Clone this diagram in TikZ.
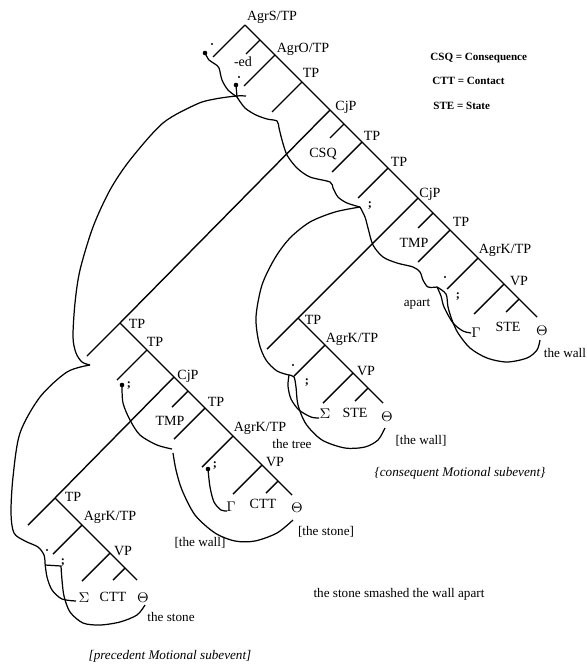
\documentclass[tikz,border=0pt]{standalone}
\usepackage{fontspec}
\setmainfont{Liberation Serif}
\begin{document}
\begin{tikzpicture}[x=0.02cm,y=-0.02cm,
    rama/.style={line width=0.8pt},
    curva/.style={line width=0.7pt},
    etiq/.style={font=\fontsize{8}{9}\selectfont, inner sep=0pt},
    nota/.style={font=\fontsize{7.5}{9}\selectfont, inner sep=0pt},
    ley/.style={font=\fontsize{6.3}{7}\selectfont\bfseries, inner sep=0pt, anchor=west},
    indice/.style={font=\fontsize{7}{8}\selectfont\bfseries, inner sep=0pt},
    marca/.style={fill=black, circle, inner sep=0pt, minimum size=1.3pt},
    punto/.style={fill=black, circle, inner sep=0pt, minimum size=2.6pt}]
        \useasboundingbox (0,0) rectangle (586,666);
        % Arbol superior (AgrS/TP)
        \coordinate (A0) at (245,25);  \coordinate (a0) at (213,57);
        \coordinate (A1) at (260,40);  \coordinate (a1) at (246,54);
        \coordinate (A2) at (275,55);  \coordinate (a2) at (244,86);
        \coordinate (A3) at (302,82);  \coordinate (a3) at (272,112);
        \coordinate (A4) at (330,110);
        \coordinate (A5) at (344,124); \coordinate (a5) at (330,138);
        \coordinate (A6) at (362,142); \coordinate (a6) at (332,172);
        \coordinate (A7) at (388,168); \coordinate (a7) at (358,198);
        \coordinate (A8) at (418,198);
        \coordinate (A9) at (433,213); \coordinate (a9) at (418,228);
        \coordinate (A10) at (450,230); \coordinate (a10) at (418,262);
        \coordinate (A11) at (478,258); \coordinate (a11) at (447,289);
        \coordinate (A12) at (504,284); \coordinate (a12) at (474,314);
        \coordinate (A13) at (519,299); \coordinate (a13) at (506,312);
        \coordinate (A14) at (537,317);
        % Subevento precedente (TP de la izquierda)
        \coordinate (B0) at (120,323); \coordinate (b0) at (87,356);
        \coordinate (B1) at (147,350); \coordinate (b1) at (117,380);
        \coordinate (B2) at (174,377);
        \coordinate (B3) at (188,391); \coordinate (b3) at (172,407);
        \coordinate (B4) at (205,408); \coordinate (b4) at (174,439);
        \coordinate (B5) at (233,436); \coordinate (b5) at (202,467);
        \coordinate (B6) at (262,465); \coordinate (b6) at (233,494);
        \coordinate (B7) at (278,481); \coordinate (b7) at (266,493);
        \coordinate (B8) at (292,495);
        % Subevento consecuente
        \coordinate (C0) at (298,318); \coordinate (c0) at (267,349);
        \coordinate (C1) at (325,345); \coordinate (c1) at (294,376);
        \coordinate (C2) at (353,373); \coordinate (c2) at (323,403);
        \coordinate (C3) at (368,388); \coordinate (c3) at (355,401);
        \coordinate (C4) at (383,403);
        % Arbol de abajo
        \coordinate (D0) at (55,498);  \coordinate (d0) at (28,525);
        \coordinate (D1) at (82,525);  \coordinate (d1) at (53,554);
        \coordinate (D2) at (110,553); \coordinate (d2) at (82,581);
        \coordinate (D3) at (125,568); \coordinate (d3) at (113,580);
        \coordinate (D4) at (137,580);

        % Pintar ramas
        \draw[rama] (A0) -- (A14);
        \draw[rama] (A0) -- (a0);  \draw[rama] (A1) -- (a1);
        \draw[rama] (A2) -- (a2);  \draw[rama] (A3) -- (a3);
        \draw[rama] (A5) -- (a5);  \draw[rama] (A6) -- (a6);
        \draw[rama] (A7) -- (a7);  \draw[rama] (A9) -- (a9);
        \draw[rama] (A10) -- (a10); \draw[rama] (A11) -- (a11);
        \draw[rama] (A12) -- (a12); \draw[rama] (A13) -- (a13);
        \draw[rama] (A4) -- (B0);  \draw[rama] (A8) -- (C0);
        \draw[rama] (B0) -- (B8);
        \draw[rama] (B0) -- (b0);  \draw[rama] (B1) -- (b1);
        \draw[rama] (B3) -- (b3);  \draw[rama] (B4) -- (b4);
        \draw[rama] (B5) -- (b5);  \draw[rama] (B6) -- (b6);
        \draw[rama] (B7) -- (b7);  \draw[rama] (B2) -- (D0);
        \draw[rama] (C0) -- (C4);
        \draw[rama] (C0) -- (c0);  \draw[rama] (C1) -- (c1);
        \draw[rama] (C2) -- (c2);  \draw[rama] (C3) -- (c3);
        \draw[rama] (D0) -- (D4);
        \draw[rama] (D0) -- (d0);  \draw[rama] (D1) -- (d1);
        \draw[rama] (D2) -- (d2);  \draw[rama] (D3) -- (d3);

        % Curvas de movimiento
        \draw[curva] plot[smooth] coordinates {(205,53) (209,60) (215,64) (219,68) (222,80) (228,90) (237,97)};
        \draw[curva] (236,85) -- (237,97);
        \draw[curva] plot[smooth] coordinates {(237,97) (245,108) (256,115) (267,119) (277,121) (279,128) (282,140) (287,155) (297,168) (310,177) (330,182) (333,188) (338,197) (347,203) (360,207)};
        \draw[curva] plot[smooth] coordinates {(246,96) (236,96) (215,99) (197,104) (163,123) (130,160) (110,190) (93,227) (80,270) (75,303) (73,337) (76,353) (82,362) (90,365)};
        \draw[curva] plot[smooth] coordinates {(90,365) (67,372) (40,397) (20,433) (13,477) (11,513) (14,533) (25,541) (38,547) (44,555) (45,563)};
        \draw[curva] plot[smooth] coordinates {(45,563) (47,577) (52,590) (62,599) (76,601)};
        \draw[curva] (45,565) -- (61,566);
        \draw[curva] plot[smooth] coordinates {(61,566) (62,580) (64,596) (70,612) (83,623) (100,625) (120,622) (137,615) (145,605)};
        % consecuente
        \draw[curva] plot[smooth] coordinates {(360,207) (335,212) (310,222) (290,238) (275,258) (262,285) (256,317) (259,343) (266,360) (277,371) (289,375)};
        \draw[curva] plot[smooth] coordinates {(289,375) (288,386) (291,399) (299,410) (311,417) (319,418)};
        \draw[curva] plot[smooth] coordinates {(289,375) (294,377) (296,387) (298,405) (306,424) (322,440) (345,448) (365,447) (378,440) (385,428)};
        % arbol derecho
        \draw[curva] plot[smooth] coordinates {(360,207) (365,217) (368,228) (373,245) (383,257) (397,263) (413,267) (420,272) (423,280) (428,287) (437,287)};
        \draw[curva] plot[smooth] coordinates {(437,287) (441,296) (444,307) (453,323) (463,331) (471,333)};
        \draw[curva] plot[smooth] coordinates {(437,287) (446,294) (448,307) (452,320) (458,333) (470,348) (487,358) (507,362) (527,358) (537,350) (540,340)};
        % precedente
        \draw[curva] plot[smooth] coordinates {(122,385) (123,403) (130,420) (140,435) (157,445) (172,449)};
        \draw[curva] plot[smooth] coordinates {(173,453) (176,470) (182,490) (195,515) (215,533) (235,541) (255,541) (277,533) (293,520)};
        \draw[curva] plot[smooth] coordinates {(208,469) (210,487) (214,502) (221,510) (227,511)};

        % Puntos e indices
        \node[punto] (p1) at (205,53) {};
        \node[punto] (p2) at (236,85) {};
        \node[punto] (p3) at (122,385) {};
        \node[punto] (p4) at (208,469) {};
        \node[marca] (i1) at (212,44) {};
        \node[marca] (i2) at (239,77) {};
        \node[indice] (i3) at (370,206) {;};
        \node[marca] (i4) at (445,277) {};
        \node[indice] (i5) at (458,297) {;};
        \node[indice] (i6) at (129,386) {;};
        \node[indice] (i7) at (215,466) {;};
        \node[marca] (i8) at (293,365) {};
        \node[indice] (i9) at (307,383) {;};
        \node[marca] (i10) at (47,550) {};
        \node[indice] (i11) at (63,563) {;};

        % Texto del arbol superior
        \node[etiq] (tAgrS) at (272,17) {AgrS/TP};
        \node[etiq] (ted) at (243,62) {-ed};
        \node[etiq] (tAgrO) at (303,49) {AgrO/TP};
        \node[etiq] (tTP1) at (311,73) {TP};
        \node[etiq] (tCjP1) at (346,107) {CjP};
        \node[etiq] (tCSQ) at (323,154) {CSQ};
        \node[etiq] (tTP2) at (372,136) {TP};
        \node[etiq] (tTP3) at (399,162) {TP};
        \node[etiq] (tCjP2) at (430,194) {CjP};
        \node[etiq] (tTMP1) at (414,243) {TMP};
        \node[etiq] (tTP4) at (461,222) {TP};
        \node[etiq] (tAgrK1) at (505,250) {AgrK/TP};
        \node[etiq] (tVP1) at (519,281) {VP};
        \node[etiq] (tG1) at (476,333) {$\Gamma$};
        \node[etiq] (tSTE1) at (508,327) {STE};
        \node[etiq] (tT1) at (542,331) {$\Theta$};
        \node[nota] (twall1) at (565,353) {the wall};
        \node[nota] (tapart) at (417,304) {apart};

        % Texto del subevento precedente
        \node[etiq] (tTP5) at (137,324) {TP};
        \node[etiq] (tTP6) at (155,342) {TP};
        \node[etiq] (tCjP3) at (188,376) {CjP};
        \node[etiq] (tTMP2) at (170,421) {TMP};
        \node[etiq] (tTP7) at (216,402) {TP};
        \node[etiq] (tAgrK2) at (260,428) {AgrK/TP};
        \node[nota] (ttree) at (292,444) {the tree};
        \node[etiq] (tVP2) at (275,462) {VP};
        \node[etiq] (tG2) at (231,507) {$\Gamma$};
        \node[etiq] (tCTT1) at (263,504) {CTT};
        \node[etiq] (tT2) at (297,508) {$\Theta$};
        \node[nota] (twall2) at (200,543) {[the wall]};
        \node[nota] (tstone1) at (326,532) {[the stone]};

        % Texto del subevento consecuente
        \node[etiq] (tTP8) at (313,320) {TP};
        \node[etiq] (tAgrK3) at (352,339) {AgrK/TP};
        \node[etiq] (tVP3) at (366,371) {VP};
        \node[etiq] (tS1) at (325,414) {$\Sigma$};
        \node[etiq] (tSTE2) at (355,413) {STE};
        \node[etiq] (tT3) at (387,417) {$\Theta$};
        \node[nota] (twall3) at (421,441) {[the wall]};
        \node[nota] (tcons) at (460,473) {\itshape\{consequent Motional subevent\}};

        % Texto del arbol de abajo
        \node[etiq] (tTP9) at (73,497) {TP};
        \node[etiq] (tAgrK4) at (110,517) {AgrK/TP};
        \node[etiq] (tVP4) at (123,551) {VP};
        \node[etiq] (tS2) at (84,598) {$\Sigma$};
        \node[etiq] (tCTT2) at (113,597) {CTT};
        \node[etiq] (tT4) at (143,598) {$\Theta$};
        \node[nota] (tstone2) at (171,617) {the stone};
        \node[nota] (tprec) at (170,656) {\itshape [precedent Motional subevent]};

        \node[nota] (tfrase) at (399,594) {the stone smashed the wall apart};

        % Leyenda
        \node[ley] (l1) at (430,58) {CSQ = Consequence};
        \node[ley] (l2) at (432,81) {CTT = Contact};
        \node[ley] (l3) at (433,106) {STE = State};
    \end{tikzpicture}
\end{document}
